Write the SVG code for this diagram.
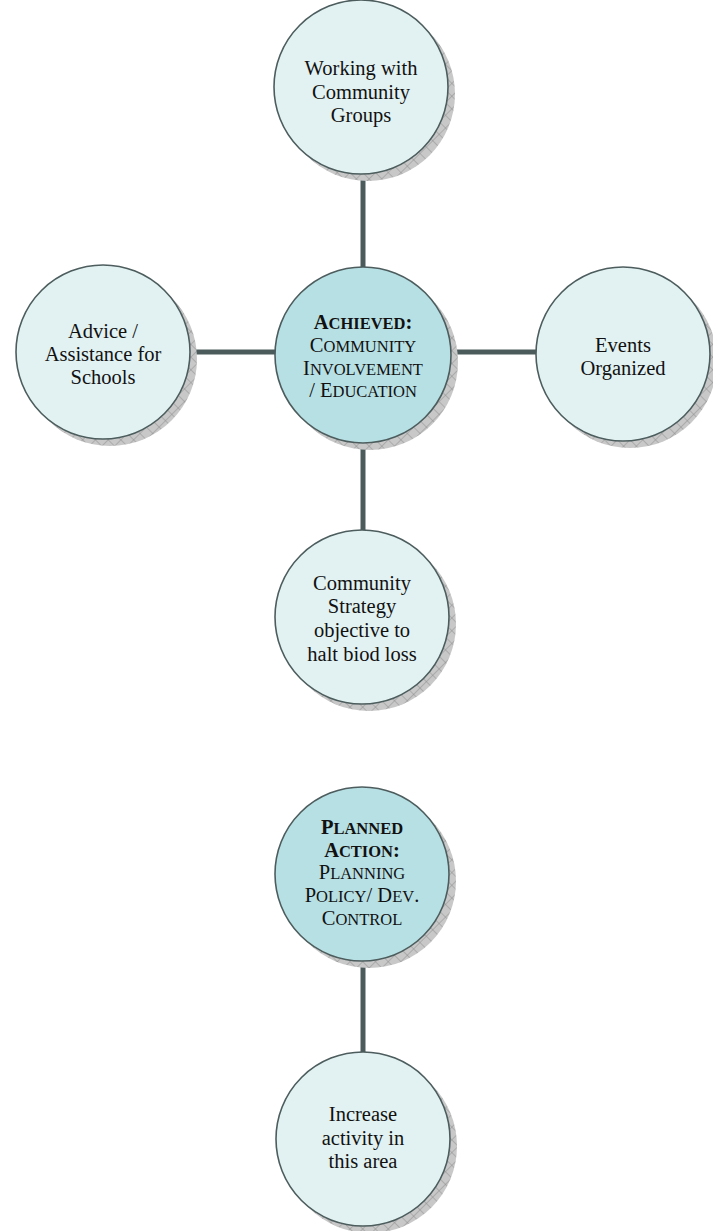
<svg xmlns="http://www.w3.org/2000/svg" width="713" height="1231" viewBox="0 0 713 1231">
<style>
.sh{fill:url(#hatch);}
.c{fill:#e2f2f3;stroke:#4d5d5e;stroke-width:1.6;}
.m{fill:#b7e0e4;stroke:#4d5d5e;stroke-width:1.6;}
.t{font-family:"Liberation Serif","Times New Roman",serif;font-size:20.5px;fill:#111;text-anchor:middle;}
.s{font-size:16.5px;}
.b{font-weight:bold;}
.ln{stroke:#4b5a5a;stroke-width:5;fill:none;}
</style>
<defs>
<pattern id="hatch" width="9" height="9" patternUnits="userSpaceOnUse" patternTransform="rotate(45)">
<rect width="9" height="9" fill="#c8c8c8"/>
<path d="M0 0H9M0 0V9" stroke="#8e8e8e" stroke-width="1"/>
</pattern>
</defs>
<g id="connectors">
<line class="ln" x1="363" y1="172" x2="363" y2="268"/>
<line class="ln" x1="190" y1="352" x2="276" y2="352"/>
<line class="ln" x1="451" y1="352" x2="537" y2="352"/>
<line class="ln" x1="363" y1="442" x2="363" y2="531"/>
<line class="ln" x1="363" y1="960" x2="363" y2="1053"/>
</g>
<g id="n-working">
<circle class="sh" cx="368" cy="94" r="87"/>
<circle class="c" cx="361" cy="87" r="87"/>
<text class="t" x="361" y="75">Working with</text>
<text class="t" x="361" y="99">Community</text>
<text class="t" x="361" y="122">Groups</text>
</g>
<g id="n-advice">
<circle class="sh" cx="110" cy="359" r="87"/>
<circle class="c" cx="103" cy="352" r="87"/>
<text class="t" x="103" y="338">Advice /</text>
<text class="t" x="103" y="361">Assistance for</text>
<text class="t" x="103" y="384">Schools</text>
</g>
<g id="n-achieved">
<circle class="sh" cx="370" cy="362" r="88"/>
<circle class="m" cx="363" cy="355" r="88"/>
<text class="t b" x="363" y="329">A<tspan class="s">CHIEVED</tspan>:</text>
<text class="t" x="363" y="352">C<tspan class="s">OMMUNITY</tspan></text>
<text class="t" x="363" y="375">I<tspan class="s">NVOLVEMENT</tspan></text>
<text class="t" x="363" y="397">/ E<tspan class="s">DUCATION</tspan></text>
</g>
<g id="n-events">
<circle class="sh" cx="630" cy="361" r="87"/>
<circle class="c" cx="623" cy="354" r="87"/>
<text class="t" x="623" y="352">Events</text>
<text class="t" x="623" y="375">Organized</text>
</g>
<g id="n-strategy">
<circle class="sh" cx="369" cy="624" r="87"/>
<circle class="c" cx="362" cy="617" r="87"/>
<text class="t" x="362" y="590">Community</text>
<text class="t" x="362" y="613">Strategy</text>
<text class="t" x="362" y="637">objective to</text>
<text class="t" x="362" y="661">halt biod loss</text>
</g>
<g id="n-planned">
<circle class="sh" cx="369" cy="881" r="87"/>
<circle class="m" cx="362" cy="874" r="87"/>
<text class="t b" x="362" y="834">P<tspan class="s">LANNED</tspan></text>
<text class="t b" x="362" y="857">A<tspan class="s">CTION</tspan>:</text>
<text class="t" x="362" y="879">P<tspan class="s">LANNING</tspan></text>
<text class="t" x="362" y="902">P<tspan class="s">OLICY</tspan>/ D<tspan class="s">EV</tspan>.</text>
<text class="t" x="362" y="925">C<tspan class="s">ONTROL</tspan></text>
</g>
<g id="n-increase">
<circle class="sh" cx="370" cy="1146" r="87"/>
<circle class="c" cx="363" cy="1139" r="87"/>
<text class="t" x="363" y="1121">Increase</text>
<text class="t" x="363" y="1145">activity in</text>
<text class="t" x="363" y="1168">this area</text>
</g>
</svg>
